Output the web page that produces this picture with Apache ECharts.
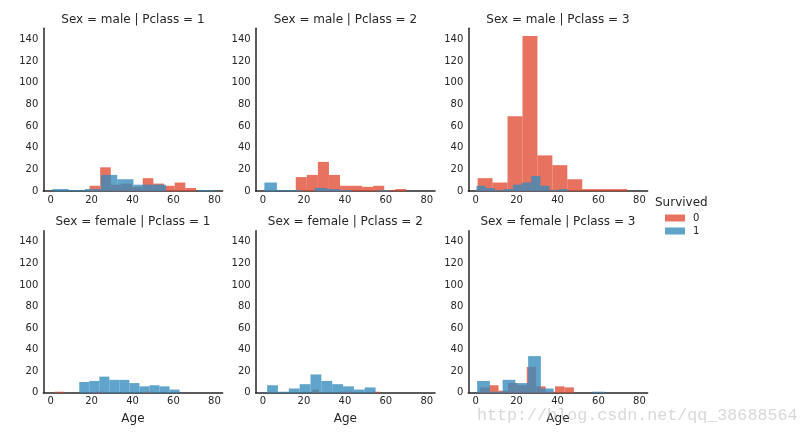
<!DOCTYPE html>
<html><head><meta charset="utf-8">
<script src="https://cdn.jsdelivr.net/npm/echarts@6/dist/echarts.min.js"></script>
<style>html,body{margin:0;padding:0;background:#fff}#c{width:808px;height:435px}</style>
</head><body><div id="c"></div>
<script>
// Facets (row-major): Sex x Pclass
const sexes = ['male', 'female'];
const pclasses = [1, 2, 3];
const hueLabels = ['0', '1'];
const legendTitle = 'Survived';
const xName = 'Age';
const xTicks = [0, 20, 40, 60, 80];
const yTicks = [0, 20, 40, 60, 80, 100, 120, 140];

// Histogram bin ranges [min age, max age] per facet (10 equal bins each)
const diedRange = [[19, 71], [16, 70], [1, 74], [2, 50], [24, 57], [2, 48]];
const survRange = [[0.92, 80], [0.67, 62], [0.42, 45], [14, 63], [2, 55], [0.75, 63]];

// Counts per bin, Survived = 0
const diedCounts = [
  [5, 22, 6, 7, 4, 12, 7, 5, 8, 3],
  [13, 15, 27, 15, 5, 5, 4, 5, 1, 2],
  [12, 8, 69, 143, 33, 24, 11, 2, 2, 2],
  [1, 0, 0, 0, 1, 0, 0, 0, 0, 1],
  [3, 0, 0, 0, 1, 1, 0, 0, 0, 1],
  [5, 7, 2, 9, 7, 24, 6, 1, 6, 5]
];
// Counts per bin, Survived = 1
const survCounts = [
  [2, 1, 2, 15, 11, 6, 6, 0, 0, 1],
  [8, 1, 1, 0, 3, 2, 1, 0, 0, 1],
  [5, 3, 1, 2, 6, 8, 14, 5, 1, 2],
  [10, 11, 15, 12, 12, 9, 6, 7, 6, 3],
  [7, 1, 4, 8, 17, 11, 8, 6, 3, 5],
  [11, 1, 12, 9, 34, 4, 0, 0, 0, 1]
];

const colors = ['rgba(226,74,51,0.78)', 'rgba(52,138,189,0.78)'];
const txt = '#262626';
const FONT = 'DejaVu Sans';

const colLeft = [43.3, 255.7, 468.3];
const colW = 179.3;
const rowTop = [28.2, 230.8];
const rowH = [163, 162];

function binsOf(range, counts) {
  const w = (range[1] - range[0]) / counts.length;
  return counts.map((c, i) => [range[0] + i * w, range[0] + (i + 1) * w, c]);
}

function renderItem(params, api) {
  const lo = api.value(0), hi = api.value(1), c = api.value(2);
  const p0 = api.coord([lo, 0]);
  const p1 = api.coord([hi, c]);
  return {
    type: 'rect',
    shape: { x: p0[0], y: p1[1], width: p1[0] - p0[0], height: p0[1] - p1[1] },
    style: { fill: api.visual('color') }
  };
}

const grids = [], xAxes = [], yAxes = [], series = [], graphics = [];
let idx = 0;
sexes.forEach((sex, r) => {
  pclasses.forEach((pc, c) => {
    grids.push({ left: colLeft[c], top: rowTop[r], width: colW, height: rowH[r] });
    xAxes.push({
      gridIndex: idx, type: 'value', min: -3.56, max: 84.0,
      splitLine: { show: false }, axisTick: { show: false },
      axisLine: { show: true, onZero: false, lineStyle: { color: txt, width: 1.5 } },
      axisLabel: { customValues: xTicks, color: txt, fontSize: 10, fontFamily: FONT, margin: 4 },
      name: r === 1 ? xName : '', nameLocation: 'middle', nameGap: 20,
      nameTextStyle: { fontSize: 12, color: txt, fontFamily: FONT }
    });
    yAxes.push({
      gridIndex: idx, type: 'value', min: 0, max: 150.15,
      splitLine: { show: false }, axisTick: { show: false },
      axisLine: { show: true, onZero: false, lineStyle: { color: txt, width: 1.5 } },
      axisLabel: { customValues: yTicks, color: txt, fontSize: 10, fontFamily: FONT, margin: 5 }
    });
    series.push({
      type: 'custom', name: hueLabels[0], xAxisIndex: idx, yAxisIndex: idx,
      renderItem, encode: { x: [0, 1], y: 2 },
      itemStyle: { color: colors[0] }, data: binsOf(diedRange[idx], diedCounts[idx]), z: 2
    });
    series.push({
      type: 'custom', name: hueLabels[1], xAxisIndex: idx, yAxisIndex: idx,
      renderItem, encode: { x: [0, 1], y: 2 },
      itemStyle: { color: colors[1] }, data: binsOf(survRange[idx], survCounts[idx]), z: 3
    });
    graphics.push({
      type: 'text', x: colLeft[c] + colW / 2, y: rowTop[r] - 8.5,
      style: { text: 'Sex = ' + sex + ' | Pclass = ' + pc, textAlign: 'center', textVerticalAlign: 'middle',
               fontSize: 12, fontFamily: FONT, fill: txt }
    });
    idx++;
  });
});

graphics.push({
  type: 'text', x: 655, y: 203,
  style: { text: legendTitle, textAlign: 'left', textVerticalAlign: 'middle', fontSize: 12, fontFamily: FONT, fill: txt }
});
graphics.push({
  type: 'text', x: 477, y: 416, z: 100,
  style: { text: 'http://blog.csdn.net/qq_38688564', textAlign: 'left', textVerticalAlign: 'middle',
           fontSize: 16.7, fontFamily: 'Liberation Mono', fill: 'rgba(190,190,190,0.6)' }
});

const chart = echarts.init(document.getElementById('c'), null, { renderer: 'canvas' });
chart.setOption({
  animation: false,
  backgroundColor: '#fff',
  grid: grids, xAxis: xAxes, yAxis: yAxes, series,
  legend: {
    data: hueLabels, orient: 'vertical', left: 660, top: 208,
    itemWidth: 20, itemHeight: 7, itemGap: 3, icon: 'rect',
    textStyle: { fontSize: 10, color: txt, fontFamily: FONT, padding: [0, 0, 0, 3] }
  },
  graphic: graphics
});
</script></body></html>
